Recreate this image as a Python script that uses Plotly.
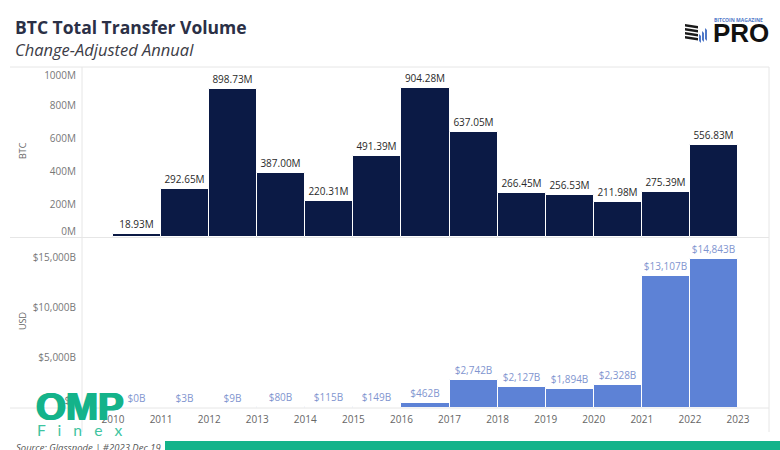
import plotly.graph_objects as go

years = list(range(2010, 2023))
btc_values = [18.93, 292.65, 898.73, 387.00, 220.31, 491.39, 904.28, 637.05, 266.45, 256.53, 211.98, 275.39, 556.83]
usd_values = [0, 3, 9, 80, 115, 149, 462, 2742, 2127, 1894, 2328, 13107, 14843]
year_ticks = list(range(2010, 2024))
btc_ticks = ["0M", "200M", "400M", "600M", "800M", "1000M"]
usd_ticks = ["$0", "$5,000B", "$10,000B", "$15,000B"]

W, H = 780, 450
NAVY = "#0b1a45"
BLUE = "#5d82d6"
GREEN = "#14b38a"
GRID = "#e6e6e6"


def px(x):
    return x / W


def py(y):
    return 1 - y / H


fig = go.Figure()
fig.add_trace(go.Bar(
    x=years, y=btc_values, width=1, offset=0, xaxis="x2", yaxis="y2",
    marker=dict(color=NAVY, line=dict(color="#ffffff", width=1)),
    text=[f"{v:.2f}M" for v in btc_values], textposition="outside",
    textfont=dict(size=10, color="#2a2a2a"), cliponaxis=False,
))
fig.add_trace(go.Bar(
    x=years, y=usd_values, width=1, offset=0, xaxis="x", yaxis="y",
    marker=dict(color=BLUE, line=dict(color="#ffffff", width=1)),
    text=[f"${v:,}B" for v in usd_values], textposition="outside",
    textfont=dict(size=10, color="#7f95cf"), cliponaxis=False,
))

x_range = [2009.355, 2023.645]
fig.update_layout(
    width=W, height=H, margin=dict(l=0, r=0, t=0, b=0),
    paper_bgcolor="#ffffff", plot_bgcolor="#ffffff", showlegend=False,
    font=dict(family="Open Sans", color="#666666"), bargap=0,
    xaxis=dict(domain=[px(82), px(769)], range=x_range, anchor="y",
               tickvals=year_ticks, ticktext=[str(y) for y in year_ticks],
               showgrid=False, zeroline=False, showline=False, ticks="", ticklabelstandoff=4,
               tickfont=dict(size=10, color="#666666")),
    xaxis2=dict(domain=[px(82), px(769)], range=x_range, anchor="y2",
                showticklabels=False, showgrid=False, zeroline=False, ticks=""),
    yaxis=dict(domain=[py(408), py(238)], range=[0, 16930], anchor="x",
               tickvals=[700, 5000, 10000, 15000], ticktext=usd_ticks,
               showgrid=False, zeroline=False, ticks="", ticklabelstandoff=5,
               tickfont=dict(size=10, color="#777777")),
    yaxis2=dict(domain=[py(237), py(67)], range=[0, 1032], anchor="x2",
                tickvals=[36, 200, 400, 600, 800, 982], ticktext=btc_ticks,
                showgrid=False, zeroline=False, ticks="", ticklabelstandoff=5,
                tickfont=dict(size=10, color="#777777")),
)


def line(x0, y0, x1, y1, color=GRID):
    return dict(type="line", xref="paper", yref="paper", x0=px(x0), y0=py(y0), x1=px(x1), y1=py(y1),
                line=dict(color=color, width=1))


def logo_bar(x0, x1, y0, y1, color):
    return dict(type="path", xref="paper", yref="paper", fillcolor=color, line=dict(width=0),
                path=f"M{px(x0)},{py(y0)} L{px(x1)},{py(y0 + 2)} L{px(x1)},{py(y1 + 2)} L{px(x0)},{py(y1)} Z")


shapes = [line(10, 67, 769, 67), line(10, 237.5, 769, 237.5), line(10, 408, 769, 408),
          line(82, 67, 82, 432), line(769, 67, 769, 432)]
shapes += [logo_bar(685, 698, 24 + i * 4, 26.5 + i * 4, "#1a1a1a") for i in range(4)]
shapes += [logo_bar(699 + i * 3, 701 + i * 3, 34 - i * 3, 41 - i, "#4f78c8") for i in range(3)]
shapes.append(dict(type="rect", xref="paper", yref="paper", x0=px(165), x1=1, y0=py(441), y1=0,
                   fillcolor=GREEN, line=dict(width=0)))
fig.update_layout(shapes=shapes)


def label(x, y, text, size, color, anchor="left", **kw):
    fig.add_annotation(xref="paper", yref="paper", x=px(x), y=py(y), text=text, showarrow=False,
                       xanchor=anchor, yanchor="middle", font=dict(size=size, color=color, **kw.pop("font", {})), **kw)


label(13, 27, "<b>BTC Total Transfer Volume</b>", 17.5, "#2b3046")
label(13, 49, "<i>Change-Adjusted Annual</i>", 16.5, "#3c3c46")
label(22, 151, "BTC", 9, "#666666", anchor="center", textangle=-90)
label(22, 321, "USD", 9, "#666666", anchor="center", textangle=-90)
label(14, 447, "<i>Source: Glassnode | #2023 Dec 19</i>", 9.5, "#555555")
label(712, 20, "<b>BITCOIN MAGAZINE</b>", 5, "#4f78c8")
label(711, 33, "<b>PRO</b>", 26, "#111111", font=dict(family="Liberation Sans"))
label(34, 406, "<b>OMP</b>", 38.5, GREEN, font=dict(family="Liberation Sans", shadow=f"1px 0 0 {GREEN}, -1px 0 0 {GREEN}"))
label(35, 430, "F&nbsp;&nbsp;&nbsp;i&nbsp;&nbsp;&nbsp;n&nbsp;&nbsp;&nbsp;e&nbsp;&nbsp;&nbsp;x", 15.7, "#3fc4a0", font=dict(family="Lato"))

# the page's default body margin would push the figure off the window
fig.write_html("out.html", config=dict(displayModeBar=False), post_script="document.body.style.margin = '0';")
